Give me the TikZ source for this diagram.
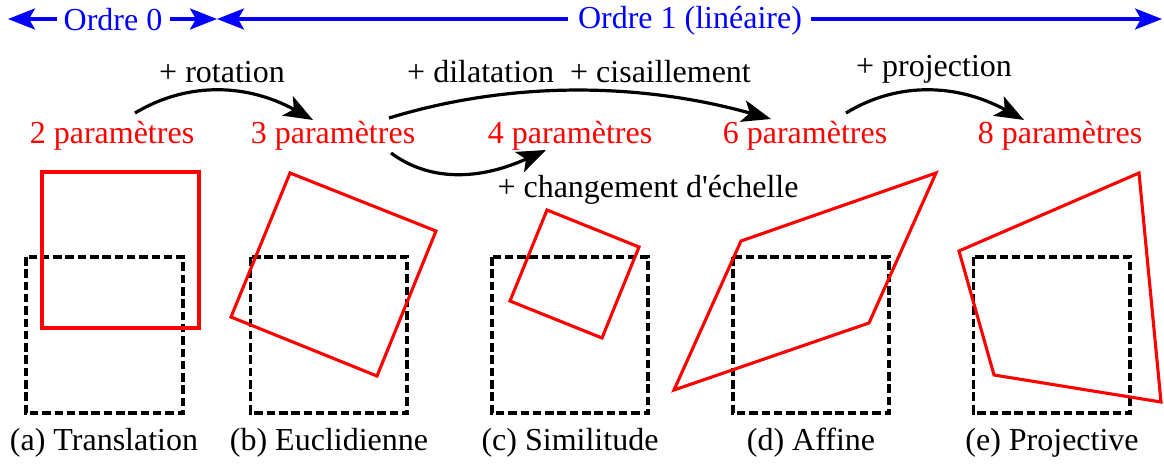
\documentclass[tikz,border=0pt]{standalone}
\usepackage{fontspec}
\setmainfont{Liberation Serif}[Ligatures=TeXOff]
\usetikzlibrary{arrows.meta}
\tikzset{
  lbl/.style={font=\fontsize{32}{32}\selectfont, inner sep=0pt, anchor=base},
  paramlbl/.style={lbl, text=red},
  ordlbl/.style={lbl, text=blue},
  blacklbl/.style={lbl, text=black},
  ordarrow/.style={draw=blue, line width=3.2pt, -{Stealth[length=27pt,width=21pt,inset=6pt]}},
  curvearrow/.style={draw=black, line width=3.2pt, -{Stealth[length=29pt,width=22pt,inset=7pt]}},
  redshape/.style={draw=red, line width=3.1pt, line join=miter},
  dashbox/.style={draw=black, line width=3.3pt, dash pattern=on 8.5pt off 3.8pt},
}
\begin{document}
\begin{tikzpicture}[x=1pt,y=-1pt]
\useasboundingbox (0,0) rectangle (1164,463);
% top bands
\node[ordlbl] (o0) at (113,30) {Ordre 0};
\node[ordlbl] (o1) at (690,28) {Ordre 1 (linéaire)};
\coordinate (a0) at (8,19);
\coordinate (a1) at (217,19);
\coordinate (a2) at (1162,19);
\coordinate (b0) at (57,19);
\coordinate (b1) at (170,19);
\coordinate (b2) at (568,19);
\coordinate (b3) at (811,19);
\draw[ordarrow] (b0) -- (a0);
\draw[ordarrow] (b1) -- (a1);
\draw[ordarrow] (b2) -- (a1);
\draw[ordarrow] (b3) -- (a2);
% parameters
\node[paramlbl] (p2) at (112,143) {2 paramètres};
\node[paramlbl] (p3) at (333,143) {3 paramètres};
\node[paramlbl] (p4) at (570,143) {4 paramètres};
\node[paramlbl] (p6) at (805,143) {6 paramètres};
\node[paramlbl] (p8) at (1060,143) {8 paramètres};
% labels
\node[blacklbl] (l1) at (222,82) {+ rotation};
\node[blacklbl] (l2) at (579,82) {+ dilatation\ \ + cisaillement};
\node[blacklbl] (l3) at (934,76) {+ projection};
\node[blacklbl] (l4) at (648,197) {+ changement d'échelle};
% curved arrows
\coordinate (c1) at (135,113);
\coordinate (c2) at (313,120);
\coordinate (c3) at (389,118);
\coordinate (c4) at (771,119);
\coordinate (c5) at (391,153);
\coordinate (c6) at (546,150);
\coordinate (c7) at (846,113);
\coordinate (c8) at (1024,120);
\draw[curvearrow] (c1) .. controls (190,80) and (250,85) .. (c2);
\draw[curvearrow] (c3) .. controls (520,78) and (650,85) .. (c4);
\draw[curvearrow] (c5) .. controls (430,182) and (480,180) .. (c6);
\draw[curvearrow] (c7) .. controls (900,80) and (960,85) .. (c8);
% dashed boxes
\draw[dashbox] (26,257) rectangle (183,413);
\draw[dashbox] (250.5,257) rectangle (407,413);
\draw[dashbox] (492,257) rectangle (648,413);
\draw[dashbox] (733,257) rectangle (889,413);
\draw[dashbox] (973.5,257) rectangle (1130,413);
% red shapes
\draw[redshape] (42,172) -- (199,172) -- (199,328) -- (42,328) -- cycle;
\draw[redshape] (290,173) -- (436,231) -- (377,376) -- (231,317) -- cycle;
\draw[redshape] (547,210) -- (639,247) -- (602,338) -- (510,301) -- cycle;
\draw[redshape] (741,241) -- (936,173) -- (869,323) -- (674,390) -- cycle;
\draw[redshape] (959,251) -- (1139,173) -- (1161,402) -- (994,375) -- cycle;
% captions
\node[blacklbl] (t1) at (104,450) {(a) Translation};
\node[blacklbl] (t2) at (329,450) {(b) Euclidienne};
\node[blacklbl] (t3) at (570,450) {(c) Similitude};
\node[blacklbl] (t4) at (811,450) {(d) Affine};
\node[blacklbl] (t5) at (1052,450) {(e) Projective};
\end{tikzpicture}
\end{document}
